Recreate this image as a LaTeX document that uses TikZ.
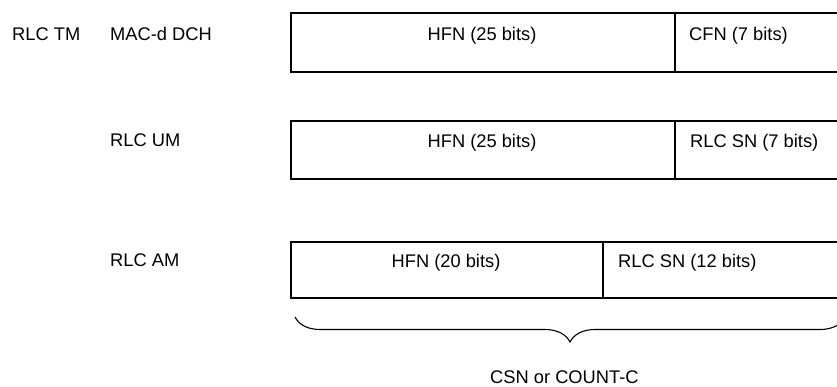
\documentclass[tikz,border=0pt]{standalone}
\usepackage{fontspec}
\setmainfont{Liberation Sans}
\usetikzlibrary{decorations.pathreplacing}
\begin{document}
\begin{tikzpicture}[x=1pt,y=-1pt,
        field/.style = {line width=1.4pt},
        lbl/.style = {inner sep=0pt,anchor=base west,font=\fontsize{18.3}{22}\selectfont},
        mid/.style = {lbl,anchor=base}]
                \useasboundingbox (0,0) rectangle (837,386);
                \clip (0,-10) rectangle (837,396);

                % row 1: RLC TM
                \draw[field] (291,13) rectangle (900,72);
                \draw[field] (675,13) -- (675,72);
                \node[lbl] (tm)   at (12,40)  {RLC TM};
                \node[lbl] (mac)  at (110,40) {MAC-d DCH};
                \node[mid] (hfnA) at (482,40) {HFN (25 bits)};
                \node[lbl] (cfn)  at (689,40) {CFN (7 bits)};

                % row 2: RLC UM
                \draw[field] (291,121) rectangle (900,179);
                \draw[field] (675,121) -- (675,179);
                \node[lbl] (um)   at (110,146) {RLC UM};
                \node[mid] (hfnB) at (482,147) {HFN (25 bits)};
                \node[lbl] (snB)  at (690,147) {RLC SN (7 bits)};

                % row 3: RLC AM
                \draw[field] (291,242) rectangle (900,298);
                \draw[field] (603,242) -- (603,298);
                \node[lbl] (am)   at (110,266) {RLC AM};
                \node[mid] (hfnC) at (446,267) {HFN (20 bits)};
                \node[lbl] (snC)  at (618,267) {RLC SN (12 bits)};

                % brace
                \coordinate (brL) at (295,317);
                \coordinate (brR) at (845,317);
                \draw[line width=1.1pt,decorate,decoration={brace,amplitude=25pt}]
                    (brR) -- (brL);
                \node[lbl] (csn) at (490,383) {CSN or COUNT-C};
            \end{tikzpicture}
\end{document}
